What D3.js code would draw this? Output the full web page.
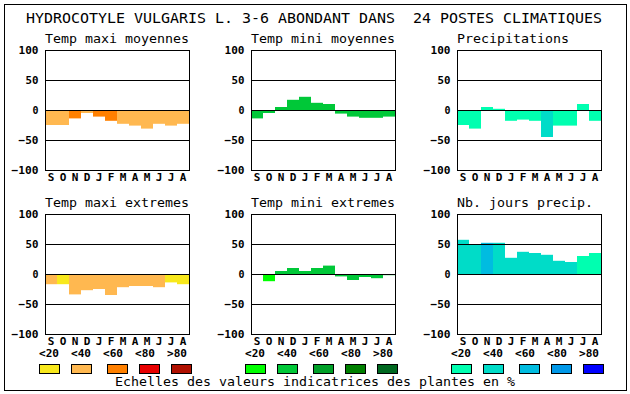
<!DOCTYPE html>
<html>
<head>
<meta charset="utf-8">
<script src="https://cdn.jsdelivr.net/npm/d3@7"></script>
<style>
  body { margin: 0; background: #fff; }
  svg { display: block; }
</style>
</head>
<body>
<div id="chart"></div>
<script>
// chart values
var title = "HYDROCOTYLE VULGARIS L. 3-6 ABONDANT DANS  24 POSTES CLIMATIQUES";
var footer = "Echelles des valeurs indicatrices des plantes en %";
var months = ["S", "O", "N", "D", "J", "F", "M", "A", "M", "J", "J", "A"];
var yTicks = [-100, -50, 0, 50, 100];
var legendLabels = ["<20", "<40", "<60", "<80", ">80"];

var panelTitles = ["Temp maxi moyennes", "Temp mini moyennes", "Precipitations",
                   "Temp maxi extremes", "Temp mini extremes", "Nb. jours precip."];

var tmaxMoy = [-25, -25, -14, -5, -11, -18, -23, -26, -31, -23, -26, -23];
var tminMoy = [-14, -5, 5, 17, 22, 12, 10, -6, -11, -13, -13, -11];
var precip = [-25, -31, 5, 2, -18, -16, -18, -45, -26, -26, 10, -18];
var tmaxExt = [-17, -17, -34, -27, -25, -35, -22, -20, -20, -22, -14, -17];
var tminExt = [0, -12, 5, 10, 5, 10, 14, -4, -10, -5, -7, -2];
var nbJours = [57, 50, 52, 52, 27, 37, 35, 32, 22, 20, 30, 35];

// class of indicator value (0 = <20 ... 4 = >80) for each month
var tmaxMoyCls = [1, 1, 2, 1, 2, 2, 1, 1, 1, 1, 1, 1];
var tminMoyCls = [1, 1, 1, 1, 1, 1, 1, 1, 1, 1, 1, 1];
var precipCls = [0, 0, 0, 0, 0, 0, 0, 1, 0, 0, 0, 0];
var tmaxExtCls = [1, 0, 1, 1, 1, 1, 1, 1, 1, 1, 0, 0];
var tminExtCls = [1, 0, 1, 1, 1, 1, 1, 1, 1, 1, 1, 1];
var nbJoursCls = [1, 1, 2, 1, 1, 1, 1, 1, 1, 1, 0, 0];

var orangeScale = ["#f8e81c", "#ffb850", "#ff8000", "#e80000", "#b01000"];
var greenScale = ["#00ff00", "#00c838", "#00a028", "#008000", "#006820"];
var blueScale = ["#00ffb0", "#00dcc8", "#00bce0", "#0098e8", "#0000ff"];

var panels = [
  { values: tmaxMoy, cls: tmaxMoyCls, colors: orangeScale },
  { values: tminMoy, cls: tminMoyCls, colors: greenScale },
  { values: precip, cls: precipCls, colors: blueScale },
  { values: tmaxExt, cls: tmaxExtCls, colors: orangeScale },
  { values: tminExt, cls: tminExtCls, colors: greenScale },
  { values: nbJours, cls: nbJoursCls, colors: blueScale }
];

var svgWidth = 630;
var svgHeight = 394;
var mono = "'DejaVu Sans Mono', 'Liberation Mono', monospace";

var svg = d3.select("#chart")
  .append("svg")
  .attr("width", svgWidth)
  .attr("height", svgHeight);

// outer frame
svg.append("rect")
  .attr("x", 4.5).attr("y", 4.5)
  .attr("width", 622).attr("height", 386)
  .attr("fill", "#fff")
  .attr("stroke", "#000");

svg.append("text")
  .attr("x", 26).attr("y", 23)
  .attr("font-family", mono)
  .attr("font-size", 14)
  .attr("textLength", 576)
  .attr("lengthAdjust", "spacingAndGlyphs")
  .style("white-space", "pre")
  .text(title);

var boxW = 144, boxH = 120;
var colX = [45, 251, 457];
var rowY = [50, 214];

panels.forEach(function(p, i) {
  var left = colX[i % 3];
  var top = rowY[Math.floor(i / 3)];

  var x = d3.scaleBand()
    .domain(d3.range(months.length))
    .range([left, left + boxW]);

  var y = d3.scaleLinear()
    .domain([-100, 100])
    .range([top + boxH, top]);

  var g = svg.append("g");

  g.append("text")
    .attr("x", left).attr("y", top - 7)
    .attr("font-family", mono)
    .attr("font-size", 13)
    .attr("textLength", panelTitles[i].length * 8)
    .attr("lengthAdjust", "spacingAndGlyphs")
    .text(panelTitles[i]);

  // bars
  g.selectAll("rect.bar")
    .data(p.values)
    .enter().append("rect")
    .attr("class", "bar")
    .attr("x", (d, j) => x(j))
    .attr("width", x.bandwidth())
    .attr("y", d => y(Math.max(d, 0)))
    .attr("height", d => Math.abs(y(d) - y(0)))
    .attr("fill", (d, j) => p.colors[p.cls[j]]);

  // grid lines at -50, 0, 50
  g.selectAll("line.grid")
    .data([-50, 0, 50])
    .enter().append("line")
    .attr("x1", left).attr("x2", left + boxW)
    .attr("y1", d => Math.round(y(d)) + 0.5)
    .attr("y2", d => Math.round(y(d)) + 0.5)
    .attr("stroke", "#000");

  g.append("rect")
    .attr("x", left + 0.5).attr("y", top + 0.5)
    .attr("width", boxW).attr("height", boxH)
    .attr("fill", "none")
    .attr("stroke", "#000");

  // y axis labels
  var yAxis = g.append("g")
    .attr("transform", "translate(" + left + ",0)")
    .call(d3.axisLeft(y).tickValues(yTicks).tickSize(0).tickPadding(6.5));
  yAxis.select(".domain").remove();
  yAxis.selectAll("text")
    .attr("font-family", mono)
    .attr("font-size", 11)
    .attr("font-weight", "bold")
    .attr("fill", "#000")
    .attr("dy", "0.35em")
    .attr("textLength", d => String(d).length * 7 - 1)
    .attr("lengthAdjust", "spacingAndGlyphs");

  // month labels
  var xAxis = g.append("g")
    .attr("transform", "translate(0," + (top + boxH) + ")")
    .call(d3.axisBottom(x).tickSize(0).tickPadding(0).tickFormat(j => months[j]));
  xAxis.select(".domain").remove();
  xAxis.selectAll("text")
    .attr("font-family", mono)
    .attr("font-size", 11)
    .attr("font-weight", "bold")
    .attr("fill", "#000")
    .attr("y", 0)
    .attr("dy", 10.5);
});

// legend
var legendX = [39, 245, 451];
var swatchOff = [0, 32, 68, 100, 132];
[orangeScale, greenScale, blueScale].forEach(function(colors, k) {
  var lg = svg.append("g").attr("transform", "translate(" + legendX[k] + ",0)");

  lg.selectAll("text")
    .data(legendLabels)
    .enter().append("text")
    .attr("x", (d, j) => j * 32)
    .attr("y", 357)
    .attr("font-family", mono)
    .attr("font-size", 11)
    .attr("font-weight", "bold")
    .attr("textLength", 20)
    .attr("lengthAdjust", "spacingAndGlyphs")
    .text(d => d);

  lg.selectAll("rect")
    .data(colors)
    .enter().append("rect")
    .attr("x", (d, j) => swatchOff[j] + 0.5)
    .attr("y", 364.5)
    .attr("width", 20).attr("height", 9)
    .attr("fill", d => d)
    .attr("stroke", "#000");
});

svg.append("text")
  .attr("x", 115).attr("y", 386)
  .attr("font-family", mono)
  .attr("font-size", 13)
  .attr("textLength", footer.length * 8)
  .attr("lengthAdjust", "spacingAndGlyphs")
  .text(footer);
</script>
</body>
</html>
